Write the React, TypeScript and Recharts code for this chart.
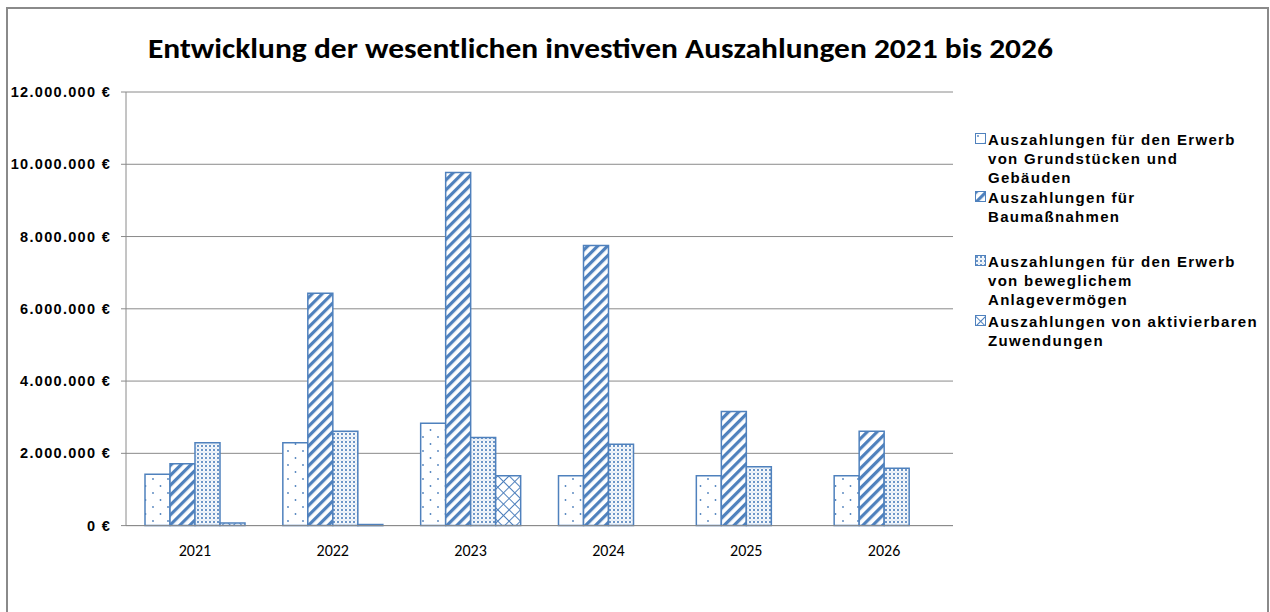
import React from 'react';
import { BarChart, Bar, XAxis, YAxis, CartesianGrid, Legend } from 'recharts';

// ---------- data ----------
const years = ['2021', '2022', '2023', '2024', '2025', '2026'];
const grundstuecke = [1420000, 2290000, 2830000, 1380000, 1380000, 1380000];
const baumassnahmen = [1710000, 6430000, 9770000, 7750000, 3160000, 2610000];
const beweglich = [2290000, 2610000, 2440000, 2250000, 1630000, 1590000];
const zuwendungen = [70000, 30000, 1380000, 0, 0, 0];
const yTicks = [0, 2000000, 4000000, 6000000, 8000000, 10000000, 12000000];
const categoryEdges = [0, 1, 2, 3, 4, 5, 6];
const seriesKeys = ['grund', 'bau', 'bew', 'zuw'];
const seriesNames = [
  'Auszahlungen für den Erwerb von Grundstücken und Gebäuden',
  'Auszahlungen für Baumaßnahmen',
  'Auszahlungen für den Erwerb von beweglichem Anlagevermögen',
  'Auszahlungen von aktivierbaren Zuwendungen',
];
const legendLines = [
  ['Auszahlungen für den Erwerb', 'von Grundstücken und', 'Gebäuden'],
  ['Auszahlungen für', 'Baumaßnahmen'],
  ['Auszahlungen für den Erwerb', 'von beweglichem', 'Anlagevermögen'],
  ['Auszahlungen von aktivierbaren', 'Zuwendungen'],
];
const titleText = 'Entwicklung der wesentlichen investiven Auszahlungen 2021 bis 2026';

const data = years.map((year, i) => ({
  year,
  idx: i,
  grund: grundstuecke[i],
  bau: baumassnahmen[i],
  bew: beweglich[i],
  zuw: zuwendungen[i],
}));

// ---------- styles ----------
const BLUE = '#4F81BD';
const GRID = '#8a8a8a';
const patternIds = ['patDots', 'patStripes', 'patDense', 'patLattice'];
const legendTops = [130.2, 188.2, 251.9, 311.9];

const fmtEuro = (v: number) =>
  String(Math.round(v)).replace(/\B(?=(\d{3})+(?!\d))/g, '.') + ' €';

const renderLegend = () => (
  <div style={{ position: 'absolute', left: 0, top: 0, width: 1270, height: 612 }}>
    {legendLines.map((lines, i) => (
      <div key={seriesNames[i]}>
        <svg
          width={11}
          height={11}
          style={{ position: 'absolute', left: 975, top: legendTops[i] + 3 }}
        >
          <rect x={0.5} y={0.5} width={10} height={10} fill={`url(#${patternIds[i]})`} stroke={BLUE} strokeWidth={1} />
        </svg>
        <div
          style={{
            position: 'absolute',
            left: 988,
            top: legendTops[i],
            fontFamily: '"Liberation Sans", Arial, sans-serif',
            fontWeight: 700,
            fontSize: 15,
            letterSpacing: 1.3,
            lineHeight: '19px',
            color: '#000',
            whiteSpace: 'nowrap',
          }}
        >
          {lines.map((l) => (
            <div key={l}>{l}</div>
          ))}
        </div>
      </div>
    ))}
  </div>
);

export default function App() {
  return (
    <div style={{ position: 'absolute', left: 0, top: 0, width: 1270, height: 612, background: '#fff', overflow: 'hidden' }}>
      <div
        style={{
          position: 'absolute',
          left: 6,
          top: 7,
          width: 1263,
          height: 640,
          border: '2px solid #8a8a8a',
          boxSizing: 'border-box',
        }}
      />
      <svg width={1270} height={80} style={{ position: 'absolute', left: 0, top: 0 }}>
        <text
          x={600.5}
          y={58}
          textAnchor="middle"
          fontFamily="Carlito, Lato, sans-serif"
          fontWeight={700}
          fontSize={28.5}
          textLength={905}
          lengthAdjust="spacingAndGlyphs"
          fill="#000"
        >
          {titleText}
        </text>
      </svg>
      <div style={{ position: 'absolute', left: 0, top: 0 }}>
        <BarChart
          width={1270}
          height={612}
          data={data}
          margin={{ top: 92, right: 317, bottom: 56.4, left: 0 }}
          barGap={0}
        >
          <defs>
            <pattern id="patDots" patternUnits="userSpaceOnUse" width={15} height={14}>
              <rect width={15} height={14} fill="#fff" />
              <circle cx={3} cy={3} r={0.9} fill={BLUE} />
              <circle cx={10.5} cy={10} r={0.9} fill={BLUE} />
            </pattern>
            <pattern id="patStripes" patternUnits="userSpaceOnUse" width={7} height={7} patternTransform="rotate(45)">
              <rect width={7} height={7} fill="#fff" />
              <rect x={0} y={0} width={3.2} height={7} fill={BLUE} />
            </pattern>
            <pattern id="patDense" patternUnits="userSpaceOnUse" width={4} height={4}>
              <rect width={4} height={4} fill="#fff" />
              <circle cx={2} cy={2} r={1.2} fill={BLUE} fillOpacity={0.85} />
              <circle cx={0} cy={0} r={0.6} fill={BLUE} fillOpacity={0.6} />
              <circle cx={4} cy={0} r={0.6} fill={BLUE} fillOpacity={0.6} />
              <circle cx={0} cy={4} r={0.6} fill={BLUE} fillOpacity={0.6} />
              <circle cx={4} cy={4} r={0.6} fill={BLUE} fillOpacity={0.6} />
            </pattern>
            <pattern id="patLattice" patternUnits="userSpaceOnUse" width={8} height={8} patternTransform="rotate(45)">
              <rect width={8} height={8} fill="#fff" />
              <line x1={0} y1={0.5} x2={8} y2={0.5} stroke={BLUE} strokeWidth={1} />
              <line x1={0.5} y1={0} x2={0.5} y2={8} stroke={BLUE} strokeWidth={1} />
            </pattern>
          </defs>
          <CartesianGrid vertical={false} stroke={GRID} strokeWidth={1} />
          <XAxis
            xAxisId="edges"
            dataKey="idx"
            type="number"
            domain={[0, 6]}
            allowDataOverflow
            ticks={categoryEdges}
            tick={false}
            tickSize={6}
            tickLine={{ stroke: GRID }}
            axisLine={false}
            height={0}
          />
          <XAxis
            dataKey="year"
            tickLine={false}
            axisLine={{ stroke: GRID }}
            tickSize={6}
            tickMargin={13}
            height={30}
            tick={{ fill: '#000', fontSize: 16, fontFamily: 'Carlito, Lato, sans-serif' }}
          />
          <YAxis
            domain={[0, 12000000]}
            ticks={yTicks}
            width={126}
            tickSize={5}
            tickMargin={10}
            axisLine={{ stroke: GRID }}
            tickLine={{ stroke: GRID }}
            tickFormatter={fmtEuro}
            tick={{
              fill: '#000',
              fontSize: 14.5,
              fontWeight: 700,
              fontFamily: '"Liberation Sans", Arial, sans-serif',
              letterSpacing: 1.3,
            }}
          />
          <Legend
            layout="vertical"
            align="center"
            verticalAlign="middle"
            wrapperStyle={{ left: 0, top: 0, width: 1270, height: 612, pointerEvents: 'none' }}
            content={renderLegend}
          />
          {seriesKeys.map((k, i) => (
            <Bar
              key={k}
              dataKey={k}
              name={seriesNames[i]}
              barSize={25}
              fill={`url(#${patternIds[i]})`}
              stroke={BLUE}
              strokeWidth={1.5}
              isAnimationActive={false}
            />
          ))}
        </BarChart>
      </div>
    </div>
  );
}
